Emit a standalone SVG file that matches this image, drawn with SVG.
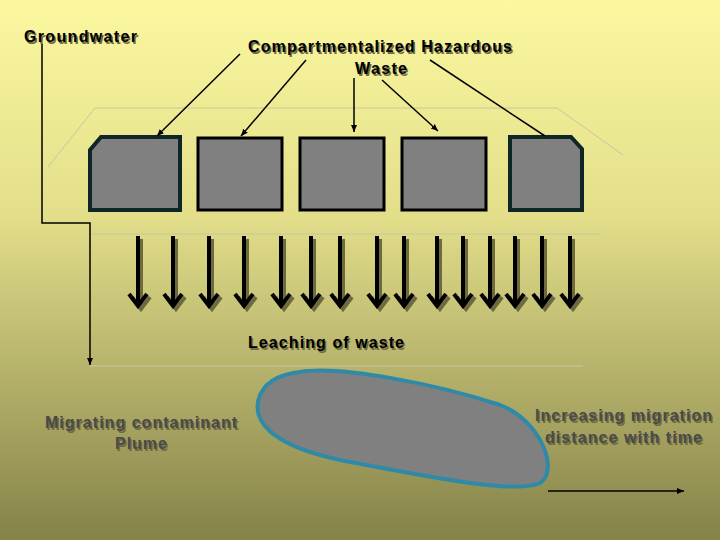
<svg xmlns="http://www.w3.org/2000/svg" width="720" height="540" viewBox="0 0 720 540">
<defs>
<linearGradient id="bg" x1="0" y1="0" x2="0" y2="1"><stop offset="0" stop-color="#fbf8a0"/><stop offset="0.4" stop-color="#e2de8a"/><stop offset="1" stop-color="#85824a"/></linearGradient>
<marker id="ah" markerWidth="8" markerHeight="8" refX="7" refY="4" orient="auto" markerUnits="userSpaceOnUse"><path d="M0,1 L7,4 L0,7 z" fill="#000"/></marker>
<g id="dn"><path d="M0,0 V70 M-9,58 L0,70 L9,58" fill="none" stroke-width="4"/></g>
<style>
text{font-family:"Liberation Sans",Arial,sans-serif;font-weight:bold;font-size:16px;fill:#000}
.sh{fill:#6e6a40}
.g{fill:#4a4a4a}
.box{fill:#808080;stroke:#000;stroke-width:3}
.boxd{fill:#808080;stroke:#0f2626;stroke-width:4}
.ln{stroke:#000;stroke-width:1.5;fill:none}
.thin{stroke:#c8c6a0;stroke-width:1;fill:none}
</style>
</defs>
<rect width="720" height="540" fill="url(#bg)"/>
<g id="guides">
<path class="thin" d="M48,167 L95,108 L557,108 L623,155"/>
<line class="thin" x1="90" y1="234" x2="600" y2="234" stroke="#e8e6b0"/>
<line class="thin" x1="90" y1="366" x2="583" y2="366" stroke="#e8e6c0"/>
</g>
<g id="compartments">
<path class="boxd" d="M101,137 H180 V210 H90 V150 Z"/>
<rect class="box" x="198" y="138" width="84" height="72"/>
<rect class="box" x="300" y="138" width="84" height="72"/>
<rect class="box" x="402" y="138" width="84" height="72"/>
<path class="boxd" d="M510,137 H571 L582,149 V210 H510 Z"/>
</g>
<g id="plume"><path d="M300,372 C340,365 440,385 500,405 C540,420 560,470 540,483 C515,495 420,475 340,460 C270,445 250,420 260,395 C268,378 285,374 300,372 Z" fill="#808080" stroke="#2f8aa8" stroke-width="4"/></g>
<g id="leach" fill="none">
<g stroke="#6e6a40" transform="translate(3,3)">
<use href="#dn" x="138" y="236"/><use href="#dn" x="173" y="236"/><use href="#dn" x="209" y="236"/><use href="#dn" x="244" y="236"/><use href="#dn" x="281" y="236"/><use href="#dn" x="311" y="236"/><use href="#dn" x="340" y="236"/><use href="#dn" x="377" y="236"/><use href="#dn" x="404" y="236"/><use href="#dn" x="437" y="236"/><use href="#dn" x="463" y="236"/><use href="#dn" x="490" y="236"/><use href="#dn" x="515" y="236"/><use href="#dn" x="542" y="236"/><use href="#dn" x="570" y="236"/>
</g>
<g stroke="#000">
<use href="#dn" x="138" y="236"/><use href="#dn" x="173" y="236"/><use href="#dn" x="209" y="236"/><use href="#dn" x="244" y="236"/><use href="#dn" x="281" y="236"/><use href="#dn" x="311" y="236"/><use href="#dn" x="340" y="236"/><use href="#dn" x="377" y="236"/><use href="#dn" x="404" y="236"/><use href="#dn" x="437" y="236"/><use href="#dn" x="463" y="236"/><use href="#dn" x="490" y="236"/><use href="#dn" x="515" y="236"/><use href="#dn" x="542" y="236"/><use href="#dn" x="570" y="236"/>
</g>
</g>
<g id="connectors" class="ln">
<path class="ln" d="M42,44 V223 H90 V365" marker-end="url(#ah)"/>
<line class="ln" x1="240" y1="54" x2="157" y2="136" marker-end="url(#ah)"/>
<line class="ln" x1="306" y1="60" x2="241" y2="136" marker-end="url(#ah)"/>
<line class="ln" x1="354" y1="78" x2="354" y2="132" marker-end="url(#ah)"/>
<line class="ln" x1="382" y1="80" x2="438" y2="131" marker-end="url(#ah)"/>
<line class="ln" x1="430" y1="60" x2="545" y2="136"/>
<line class="ln" x1="548" y1="491" x2="684" y2="491" marker-end="url(#ah)"/>
</g>
<g id="labels">
<g transform="translate(1.5,1.5)">
<text class="sh" x="24" y="42" textLength="113">Groundwater</text>
<text class="sh" x="248" y="52" textLength="264">Compartmentalized Hazardous</text>
<text class="sh" x="355" y="74" textLength="52">Waste</text>
<text class="sh" x="248" y="348" textLength="156">Leaching of waste</text>
<text class="sh" x="45" y="428" textLength="192">Migrating contaminant</text>
<text class="sh" x="115" y="449" textLength="52">Plume</text>
<text class="sh" x="535" y="421" textLength="177">Increasing migration</text>
<text class="sh" x="545" y="443" textLength="157">distance with time</text>
</g>
<text x="24" y="42" textLength="113">Groundwater</text>
<text x="248" y="52" textLength="264">Compartmentalized Hazardous</text>
<text x="355" y="74" textLength="52">Waste</text>
<text x="248" y="348" textLength="156">Leaching of waste</text>
<text class="g" x="45" y="428" textLength="192">Migrating contaminant</text>
<text class="g" x="115" y="449" textLength="52">Plume</text>
<text class="g" x="535" y="421" textLength="177">Increasing migration</text>
<text class="g" x="545" y="443" textLength="157">distance with time</text>
</g>
</svg>
